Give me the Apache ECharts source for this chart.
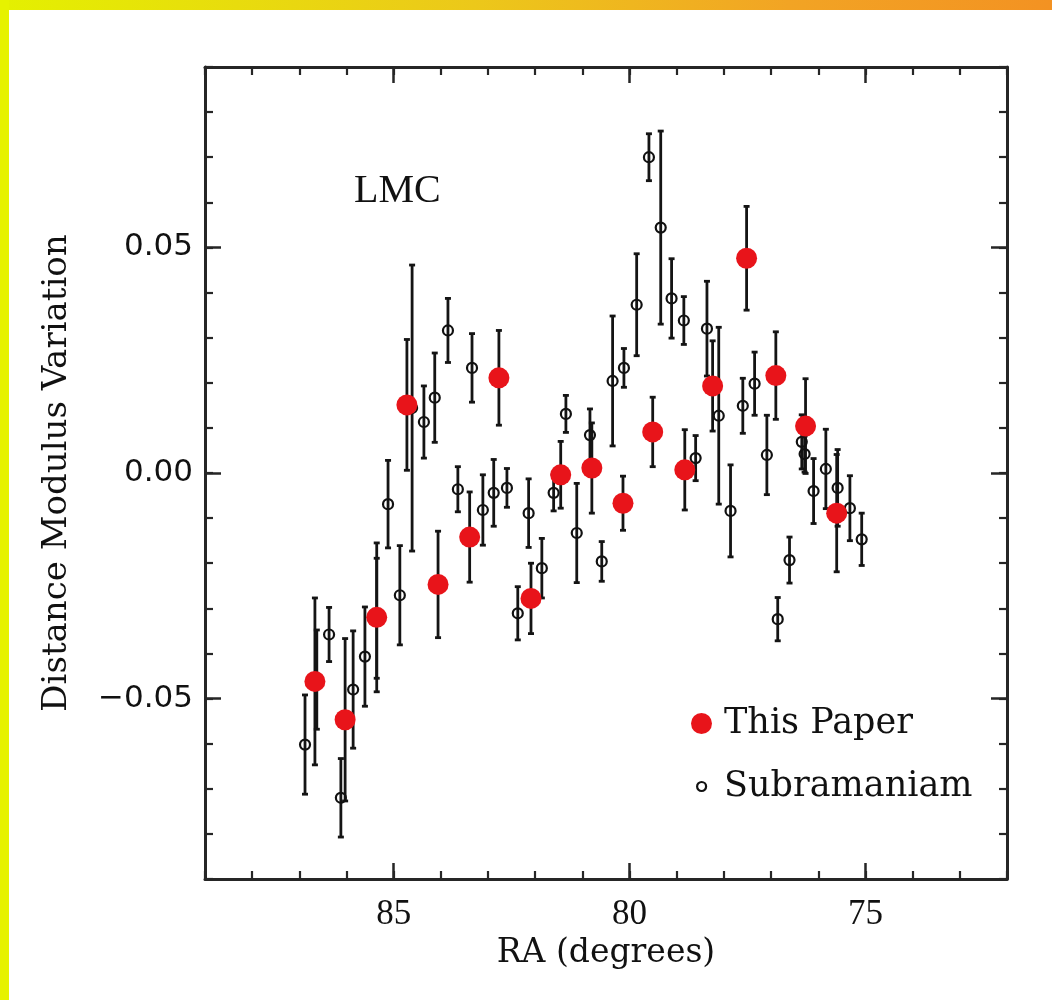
<!DOCTYPE html>
<html>
<head>
<meta charset="utf-8">
<script src="https://cdn.jsdelivr.net/npm/echarts@6/dist/echarts.min.js"></script>
<style>
html,body{margin:0;padding:0;background:#fff;}
#frame{position:relative;width:1052px;height:1000px;background:#fff;overflow:hidden;}
#chart{position:absolute;left:0;top:0;width:1052px;height:1000px;}
#topbar{position:absolute;left:0;top:0;width:1052px;height:10px;background:linear-gradient(to right,#e4f000 0%,#ecc81a 45%,#f2a424 75%,#f39222 100%);pointer-events:none;}
#leftbar{position:absolute;left:0;top:0;width:9px;height:1000px;background:#e6f200;pointer-events:none;}
</style>
</head>
<body>
<div id="frame">
  <div id="chart"></div>
  <div id="topbar"></div>
  <div id="leftbar"></div>
</div>
<script>
// ---- data: This Paper ----
const raThis  = [86.67, 86.03, 85.36, 84.72, 84.06, 83.39, 82.77, 82.09, 81.46, 80.80, 80.14, 79.51, 78.83, 78.24, 77.52, 76.90, 76.27, 75.61];
const dmThis  = [-0.0462, -0.0547, -0.0320, 0.0151, -0.0247, -0.0142, 0.0211, -0.0278, -0.0004, 0.0011, -0.0067, 0.0091, 0.0007, 0.0193, 0.0476, 0.0216, 0.0104, -0.0089];
const errThis = [0.0185, 0.0180, 0.0165, 0.0145, 0.0118, 0.0100, 0.0105, 0.0078, 0.0074, 0.0100, 0.0060, 0.0077, 0.0089, 0.0100, 0.0115, 0.0097, 0.0105, 0.0130];

// ---- data: Subramaniam ----
const raSub  = [86.88, 86.63, 86.37, 86.12, 85.86, 85.61, 85.36, 85.12, 84.87, 84.61, 84.36, 84.13, 83.85, 83.64, 83.34, 83.11, 82.88, 82.60, 82.37, 82.14, 81.86, 81.61, 81.35, 81.12, 80.84, 80.59, 80.36, 80.12, 79.85, 79.59, 79.34, 79.11, 78.85, 78.60, 78.36, 78.11, 77.86, 77.60, 77.35, 77.09, 76.86, 76.61, 76.35, 76.29, 76.10, 75.84, 75.59, 75.33, 75.08];
const dmSub  = [-0.0602, -0.0458, -0.0358, -0.0720, -0.0480, -0.0407, -0.0322, -0.0069, -0.0271, 0.0144, 0.0113, 0.0167, 0.0316, -0.0036, 0.0233, -0.0082, -0.0044, -0.0033, -0.0311, -0.0089, -0.0211, -0.0044, 0.0131, -0.0133, 0.0084, -0.0196, 0.0204, 0.0233, 0.0373, 0.0700, 0.0544, 0.0387, 0.0338, 0.0033, 0.0320, 0.0127, -0.0084, 0.0149, 0.0198, 0.0040, -0.0324, -0.0193, 0.0069, 0.0042, -0.0040, 0.0009, -0.0033, -0.0078, -0.0147];
const errSub = [0.0110, 0.0110, 0.0060, 0.0087, 0.0130, 0.0110, 0.0133, 0.0097, 0.0110, 0.0317, 0.0080, 0.0099, 0.0071, 0.0050, 0.0076, 0.0078, 0.0074, 0.0043, 0.0059, 0.0076, 0.0066, 0.0040, 0.0041, 0.0110, 0.0058, 0.0044, 0.0144, 0.0043, 0.0113, 0.0052, 0.0214, 0.0088, 0.0053, 0.0050, 0.0105, 0.0196, 0.0102, 0.0061, 0.0070, 0.0088, 0.0048, 0.0051, 0.0060, 0.0040, 0.0072, 0.0088, 0.0085, 0.0072, 0.0058];

// ---- axis ticks / labels ----
const xMajor = [75, 80, 85];
const yMajor = [-0.05, 0, 0.05];
const panelLabel = 'LMC';
const nameThis = 'This Paper';
const nameSub = 'Subramaniam';

const axisColor = '#262626';
const barColor = '#141414';

function errRows(ra, dm, err) {
  return ra.map((x, i) => [x, dm[i] - err[i], dm[i] + err[i]]);
}
function pts(ra, dm) {
  return ra.map((x, i) => [x, dm[i]]);
}
function renderErr(params, api) {
  const x = api.value(0), lo = api.value(1), hi = api.value(2);
  const a = api.coord([x, hi]);
  const b = api.coord([x, lo]);
  const st = { stroke: barColor, lineWidth: 2.8 };
  const h = 3;
  return {
    type: 'group',
    children: [
      { type: 'line', shape: { x1: a[0], y1: a[1], x2: b[0], y2: b[1] }, style: st },
      { type: 'line', shape: { x1: a[0] - h, y1: a[1], x2: a[0] + h, y2: a[1] }, style: st },
      { type: 'line', shape: { x1: b[0] - h, y1: b[1], x2: b[0] + h, y2: b[1] }, style: st }
    ]
  };
}

function xAx(pos, major, extra) {
  const base = {
    type: 'value', min: 72, max: 89, inverse: true, position: pos,
    splitLine: { show: false },
    axisLine: { show: major, onZero: false, lineStyle: { color: axisColor, width: 3 } },
    axisTick: major
      ? { show: true, inside: true, length: 16, customValues: xMajor, lineStyle: { color: axisColor, width: 2.5 } }
      : { show: true, inside: true, length: 8, lineStyle: { color: axisColor, width: 2.2 } },
    axisLabel: { show: false }
  };
  if (!major) base.interval = 1;
  return Object.assign(base, extra || {});
}
function yAx(pos, major, extra) {
  const base = {
    type: 'value', min: -0.09, max: 0.09, position: pos,
    splitLine: { show: false },
    axisLine: { show: major, onZero: false, lineStyle: { color: axisColor, width: 3 } },
    axisTick: major
      ? { show: true, inside: true, length: 16, customValues: yMajor, lineStyle: { color: axisColor, width: 2.5 } }
      : { show: true, inside: true, length: 8, lineStyle: { color: axisColor, width: 2.2 } },
    axisLabel: { show: false }
  };
  if (!major) base.interval = 0.01;
  return Object.assign(base, extra || {});
}

const chart = echarts.init(document.getElementById('chart'), null, { renderer: 'canvas' });
chart.setOption({
  animation: false,
  backgroundColor: '#ffffff',
  grid: { left: 205, right: 45, top: 67, bottom: 121, containLabel: false },
  title: {
    text: panelLabel, left: 349, top: 166,
    textStyle: { fontFamily: 'Liberation Serif', fontSize: 40, fontWeight: 'normal', color: '#111' }
  },
  legend: [
    {
      data: [{ name: nameThis, icon: 'circle', itemStyle: { color: '#e8141a', borderWidth: 0, opacity: 1 } }],
      left: 691, top: 706, padding: 0, itemWidth: 21, itemHeight: 21,
      textStyle: { fontFamily: 'DejaVu Serif', fontSize: 35, color: '#111', padding: [0, 0, 0, 7] }
    },
    {
      data: [{ name: nameSub, icon: 'circle', itemStyle: { color: '#ffffff', borderColor: '#111', borderWidth: 2.2 } }],
      left: 696, top: 769, padding: 0, itemWidth: 21, itemHeight: 9,
      textStyle: { fontFamily: 'DejaVu Serif', fontSize: 35, color: '#111', padding: [0, 0, 0, 7] }
    }
  ],
  xAxis: [
    xAx('bottom', true, {
      name: 'RA (degrees)', nameLocation: 'middle', nameGap: 51,
      nameTextStyle: { fontFamily: 'DejaVu Serif', fontSize: 33, color: '#111' },
      axisLabel: { show: true, customValues: xMajor, margin: 18, fontFamily: 'Liberation Serif', fontSize: 35, color: '#111' }
    }),
    xAx('bottom', false),
    xAx('top', true),
    xAx('top', false)
  ],
  yAxis: [
    yAx('left', true, {
      name: 'Distance Modulus Variation', nameLocation: 'middle', nameGap: 131, nameRotate: 90,
      nameTextStyle: { fontFamily: 'DejaVu Serif', fontSize: 34, color: '#111' },
      axisLabel: {
        show: true, customValues: yMajor, margin: 12, fontFamily: 'DejaVu Sans', fontSize: 31, color: '#111',
        formatter: v => (v < -1e-9 ? '\u2212' : '') + Math.abs(v).toFixed(2)
      }
    }),
    yAx('left', false),
    yAx('right', true),
    yAx('right', false)
  ],
  series: [
    {
      type: 'custom', name: 'errSub', xAxisIndex: 0, yAxisIndex: 0, z: 1,
      renderItem: renderErr, encode: { x: 0, y: [1, 2] }, data: errRows(raSub, dmSub, errSub), silent: true
    },
    {
      type: 'custom', name: 'errThis', xAxisIndex: 0, yAxisIndex: 0, z: 1,
      renderItem: renderErr, encode: { x: 0, y: [1, 2] }, data: errRows(raThis, dmThis, errThis), silent: true
    },
    {
      type: 'scatter', name: nameSub, xAxisIndex: 0, yAxisIndex: 0, z: 2,
      symbol: 'circle', symbolSize: 10,
      itemStyle: { color: 'rgba(255,255,255,0)', borderColor: '#111', borderWidth: 2.2, opacity: 1 },
      data: pts(raSub, dmSub)
    },
    {
      type: 'scatter', name: nameThis, xAxisIndex: 0, yAxisIndex: 0, z: 3,
      symbol: 'circle', symbolSize: 21,
      itemStyle: { color: '#e8141a', opacity: 1 },
      data: pts(raThis, dmThis)
    }
  ]
});
</script>
</body>
</html>
